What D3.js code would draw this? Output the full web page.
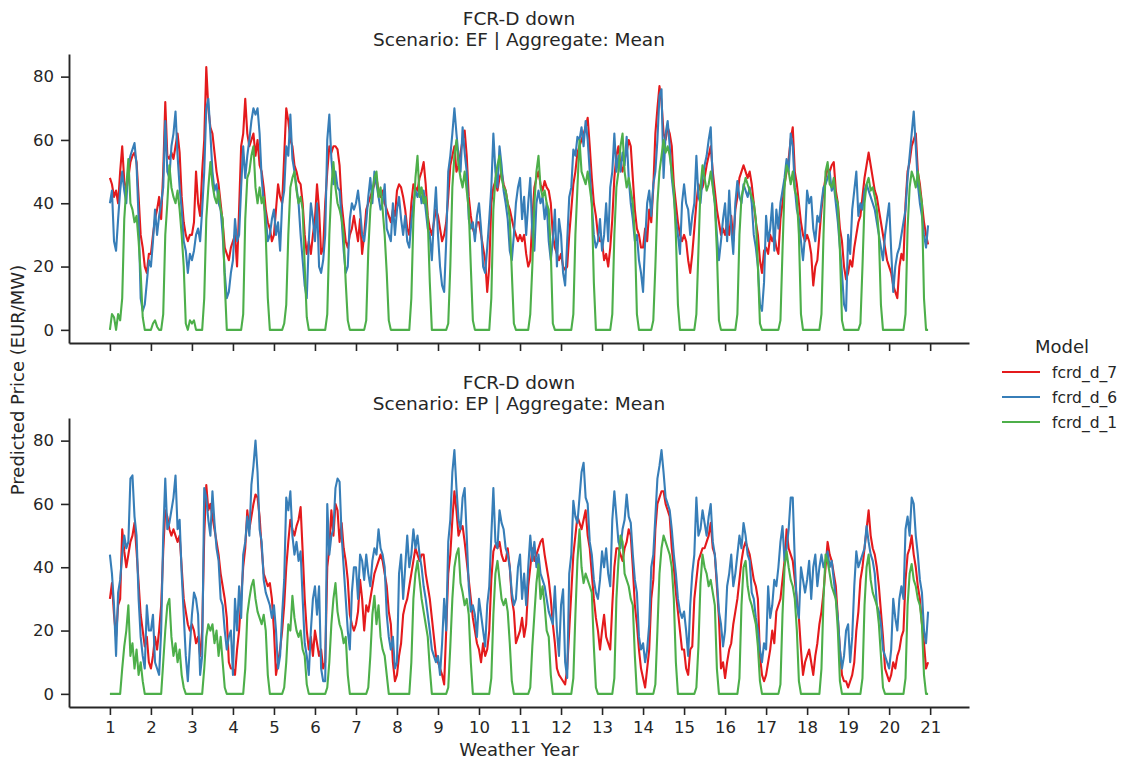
<!DOCTYPE html>
<html>
<head>
<meta charset="utf-8">
<script src="https://cdn.jsdelivr.net/npm/d3@7"></script>
<style>
  body { margin: 0; background: #fff; }
  text { font-family: "DejaVu Sans", sans-serif; fill: #262626; }
</style>
</head>
<body>
<svg id="chart" width="1129" height="763"></svg>
<script>
// weekly-ish samples, 20 per weather year, starting at year 1
const START_YEAR = 1
const STEPS_PER_YEAR = 20
const xTicks = d3.range(1, 22)
const yTicks = [0, 20, 40, 60, 80]
const models = ['fcrd_d_7', 'fcrd_d_6', 'fcrd_d_1']
const modelColors = ['#e41a1c', '#377eb8', '#4daf4a']
const scenarios = ['EF', 'EP']

// Scenario EF
const efRed = [
  48,46,42,44,40,50,58,47,44,48,53,55,56,53,42,30,26,20,18,24,
  24,30,35,38,42,35,50,72,55,54,56,54,58,62,56,42,34,30,28,30,
  30,34,50,40,36,50,60,83,70,64,62,56,50,46,40,34,26,24,22,26,
  28,30,20,38,58,62,73,62,58,60,62,55,60,52,50,45,38,34,32,28,
  30,38,46,42,40,55,70,66,60,58,52,50,47,46,40,30,24,28,24,30,
  35,46,38,24,26,40,50,58,56,58,58,57,52,40,34,28,26,30,32,36,
  32,28,35,24,30,38,40,42,44,46,48,44,42,44,40,38,36,34,38,36,
  44,46,45,42,38,32,30,40,46,45,44,48,50,53,46,36,32,30,34,38,
  36,32,28,30,34,42,52,55,58,50,52,56,60,63,55,42,36,32,30,34,
  34,30,26,22,12,20,40,45,47,44,48,50,46,44,40,38,35,32,30,28,
  30,28,30,24,20,22,35,45,48,50,46,44,47,45,44,40,30,26,24,22,
  24,20,19,20,30,38,46,50,56,58,60,62,64,67,58,48,40,36,30,28,
  28,22,24,20,26,35,48,55,58,52,50,54,56,60,58,48,38,32,30,26,
  26,32,28,38,34,45,62,70,77,72,62,60,64,62,58,46,40,34,30,28,
  30,28,22,18,24,32,40,46,44,45,48,52,55,58,50,44,38,34,30,32,
  30,34,30,36,28,38,42,48,50,52,50,48,50,46,40,34,30,22,18,25,
  26,24,30,28,30,26,24,35,40,46,50,54,60,64,50,46,40,34,30,28,
  30,28,24,14,20,22,30,38,44,48,51,50,52,53,44,40,32,28,20,16,
  18,22,20,26,30,34,36,42,48,52,56,52,48,44,42,38,34,30,26,22,
  20,18,14,12,10,20,24,22,40,50,53,58,60,62,50,46,40,34,30,27
]
const efBlue = [
  40,44,28,25,35,44,50,44,40,52,55,57,59,52,35,10,6,8,15,22,
  20,28,38,30,36,40,45,66,50,48,58,62,69,55,45,38,28,25,18,24,
  22,25,30,32,28,38,50,70,73,62,50,44,46,40,38,30,18,10,12,18,
  22,35,28,30,45,58,48,55,60,66,70,68,70,62,48,40,36,28,30,35,
  38,30,34,25,40,44,58,55,68,54,50,45,40,30,22,14,10,28,40,35,
  28,40,20,18,22,30,60,68,54,46,50,45,44,35,25,18,20,35,40,38,
  40,44,38,30,28,34,42,48,40,50,46,42,38,40,46,32,30,28,40,30,
  38,42,35,30,36,28,26,34,40,44,42,45,40,44,38,32,30,22,35,45,
  30,20,14,12,28,50,55,62,70,62,55,50,64,56,50,35,32,34,28,36,
  40,32,20,18,26,35,45,62,50,45,58,52,44,40,35,25,22,30,40,45,
  48,35,42,30,40,48,30,25,40,44,40,42,35,40,28,22,28,38,20,35,
  30,18,14,28,42,45,57,55,61,60,64,58,66,60,50,40,30,26,28,35,
  25,30,40,28,45,50,62,50,55,50,56,52,61,48,40,35,28,30,22,18,
  12,28,40,44,36,46,50,60,74,76,48,62,66,58,48,42,35,30,24,40,
  46,40,38,30,36,40,55,42,40,48,52,55,60,64,46,40,30,22,28,35,
  40,28,44,32,24,40,47,42,40,46,44,42,45,40,30,26,20,8,6,15,
  36,28,32,40,25,38,32,40,44,48,54,50,62,58,45,38,35,28,22,30,
  44,40,42,32,28,36,34,40,45,46,48,50,44,46,40,34,26,18,8,6,
  30,24,38,44,50,36,40,38,44,46,44,42,40,38,34,30,26,22,30,35,
  40,25,12,20,24,26,30,34,38,48,55,62,69,58,46,40,36,30,26,33
]
const efGreen = [
  0,5,4,0,5,3,10,35,45,54,40,38,34,36,28,18,4,0,0,0,
  0,2,3,1,0,0,5,30,40,52,45,42,40,44,38,30,20,2,0,3,
  2,3,0,0,0,0,10,35,45,53,46,42,40,44,38,35,15,0,0,0,
  0,0,0,0,0,5,35,48,50,55,58,45,40,45,40,42,30,10,0,0,
  0,0,0,0,0,2,8,30,45,48,50,44,40,42,38,20,4,0,0,0,
  0,0,0,0,0,0,5,30,45,53,45,40,38,35,30,15,3,0,0,0,
  0,0,0,0,0,3,25,38,44,48,50,42,45,38,30,18,3,0,0,0,
  0,0,0,0,0,0,0,10,35,48,55,42,45,40,42,35,15,0,0,0,
  0,0,0,0,0,2,20,45,55,60,52,48,45,50,44,38,20,3,0,0,
  0,0,0,0,0,0,10,38,48,52,55,48,45,44,40,35,18,2,0,0,
  0,0,0,0,0,5,20,40,50,55,45,42,44,40,38,25,2,0,0,0,
  0,0,0,0,0,0,5,30,45,60,50,48,46,50,45,40,15,0,0,0,
  0,0,0,0,0,5,30,45,50,58,62,50,45,48,44,40,30,5,0,0,
  0,0,0,0,0,3,20,40,50,55,60,56,58,55,50,44,30,8,0,0,
  0,0,0,0,0,0,5,25,45,52,48,44,46,50,45,40,25,3,0,0,
  0,0,0,0,0,0,5,30,42,45,48,46,44,42,40,35,20,2,0,0,
  0,0,0,0,0,0,0,3,25,45,52,50,46,50,44,42,30,5,0,0,
  0,0,0,0,0,0,0,5,30,50,53,46,45,48,42,40,25,3,0,0,
  0,0,0,0,0,0,2,20,40,46,48,44,45,42,38,30,8,0,0,0,
  0,0,0,0,0,0,0,0,5,32,45,50,48,45,50,44,40,10,0,0
]

// Scenario EP
const epRed = [
  30,35,25,18,28,30,52,45,40,44,48,50,54,45,35,25,20,15,18,10,
  8,12,18,14,20,28,45,58,56,52,50,52,50,48,50,40,30,26,22,20,
  22,20,16,18,12,20,50,66,58,60,56,52,48,44,38,34,30,24,10,8,
  8,6,14,20,30,40,46,58,52,56,60,63,62,56,46,38,36,34,35,30,
  20,6,10,14,20,28,40,48,55,52,50,53,55,59,45,30,20,14,18,12,
  20,16,12,14,8,10,40,46,58,50,60,58,48,54,46,42,36,25,22,20,
  22,26,36,30,20,28,26,30,34,38,40,42,44,42,38,34,26,22,10,4,
  6,12,16,25,28,30,34,38,42,46,44,42,44,44,38,34,30,24,18,12,
  10,8,6,3,20,38,44,55,64,58,50,52,53,48,42,36,30,24,20,16,
  14,10,16,12,14,20,36,45,47,46,48,44,42,42,46,40,30,26,16,18,
  20,24,18,22,34,40,46,42,44,46,48,49,44,40,36,30,22,16,8,6,
  5,4,3,8,20,32,44,50,56,54,52,55,58,50,46,38,30,24,20,14,
  20,25,18,16,14,28,40,46,46,44,42,46,48,52,50,40,28,22,14,8,
  5,2,8,14,30,36,52,60,62,64,64,60,58,56,46,40,32,26,20,14,
  14,8,6,14,15,30,36,42,44,46,46,48,50,54,46,44,34,24,8,10,
  5,10,14,16,22,26,30,36,42,46,48,46,44,40,36,34,30,12,6,4,
  6,10,14,20,16,26,28,30,36,42,52,46,44,42,36,30,24,14,6,10,
  12,14,10,6,12,16,22,26,32,40,48,44,42,38,34,24,14,6,4,4,
  2,4,6,10,20,26,36,40,46,52,58,50,46,44,40,34,26,18,8,6,
  4,6,10,8,12,14,18,20,36,44,46,50,44,40,34,30,22,16,8,10
]
const epBlue = [
  44,38,28,12,32,36,44,50,46,48,68,69,56,50,30,18,12,8,28,20,
  20,25,10,8,6,20,50,68,52,54,58,62,69,52,55,38,25,12,4,15,
  25,32,30,25,6,12,65,62,55,50,64,54,46,42,30,28,20,14,18,20,
  6,30,20,34,24,44,48,56,50,66,72,80,70,52,48,36,32,30,28,24,
  28,20,8,12,25,36,62,58,64,50,44,48,42,45,30,16,12,6,20,30,
  34,25,34,8,4,4,60,44,50,52,65,68,67,50,40,30,20,14,32,40,
  40,30,44,42,36,44,38,34,42,46,44,52,46,44,40,25,18,14,18,8,
  10,38,44,30,40,50,40,44,52,46,50,44,40,34,30,25,20,14,12,10,
  12,6,16,30,20,48,55,70,77,65,55,52,62,65,50,34,26,28,25,18,
  30,25,20,15,28,34,50,65,48,46,58,54,52,46,44,40,32,28,30,40,
  44,30,38,28,40,50,42,48,40,44,38,36,34,30,26,24,22,34,20,12,
  28,33,10,5,38,44,61,56,54,62,70,73,62,60,48,44,36,32,30,36,
  45,40,46,38,34,55,64,56,48,46,52,55,63,56,54,44,36,32,18,14,
  16,10,14,22,40,44,56,68,72,77,70,62,60,58,52,44,38,30,26,24,
  26,20,12,28,38,44,62,50,52,58,54,50,56,60,48,44,36,26,22,15,
  20,34,38,44,34,38,44,50,46,54,50,44,42,32,30,24,20,14,10,16,
  14,34,24,28,36,34,40,48,53,42,46,52,62,62,42,28,24,40,36,32,
  36,42,30,40,44,34,40,44,40,42,45,40,42,36,30,24,14,8,12,20,
  22,10,18,34,45,40,42,44,46,53,48,44,42,38,28,26,22,14,12,10,
  8,14,30,24,20,30,34,30,52,56,50,62,60,50,44,36,32,20,16,26
]
const epGreen = [
  0,0,0,0,0,0,8,15,20,28,12,16,8,14,6,10,4,0,0,0,
  0,0,0,0,0,0,10,20,28,30,18,12,16,10,14,6,2,0,0,0,
  0,0,0,0,0,0,8,18,22,20,22,16,20,12,18,10,2,0,0,0,
  0,0,0,0,0,0,8,25,30,34,36,30,26,24,22,25,20,6,0,0,
  0,0,0,0,0,2,10,22,20,31,24,20,18,20,14,12,3,0,0,0,
  0,0,0,0,0,0,2,10,22,30,35,26,22,20,16,18,6,0,0,0,
  0,0,0,0,0,0,2,12,25,31,22,28,18,14,12,6,0,0,0,0,
  0,0,0,0,0,0,0,10,30,38,42,36,30,26,22,18,8,0,0,0,
  0,0,0,0,0,2,15,30,40,44,46,35,32,28,30,25,10,0,0,0,
  0,0,0,0,0,0,5,25,38,42,36,30,28,30,26,16,4,0,0,0,
  0,0,0,0,0,2,15,25,35,41,30,34,28,20,18,6,0,0,0,0,
  0,0,0,0,0,0,5,25,42,52,40,35,38,36,34,32,15,2,0,0,
  0,0,0,0,0,0,5,30,42,50,48,38,36,34,30,28,12,0,0,0,
  0,0,0,0,0,0,3,20,38,46,50,48,46,44,40,30,10,0,0,0,
  0,0,0,0,0,0,2,15,35,44,40,38,34,36,32,28,8,0,0,0,
  0,0,0,0,0,0,0,5,28,40,42,34,30,28,25,22,15,4,0,0,
  0,0,0,0,0,0,0,3,25,40,45,40,36,34,30,20,4,0,0,0,
  0,0,0,0,0,0,0,8,30,44,42,38,34,32,30,20,4,0,0,0,
  0,0,0,0,0,0,0,5,28,40,44,36,32,30,28,22,12,2,0,0,
  0,0,0,0,0,0,0,0,5,28,38,41,36,34,30,28,22,6,0,0
]

const panels = [
  { scenario: scenarios[0], series: [efRed, efBlue, efGreen] },
  { scenario: scenarios[1], series: [epRed, epBlue, epGreen] }
]

const svg = d3.select('#chart')
const plotLeft = 69
const plotRight = 969
const panelTops = [54, 418]
const panelHeight = 289
const TICK_FONT = '16.5px'
const LABEL_FONT = '18px'
const TITLE_FONT = '18.5px'
const LEGEND_FONT = '15.5px'

const years = d3.range(efRed.length).map(i => START_YEAR + i / STEPS_PER_YEAR)
const xPad = (d3.max(years) - d3.min(years)) * 0.05
const x = d3.scaleLinear()
  .domain([d3.min(years) - xPad, d3.max(years) + xPad])
  .range([plotLeft, plotRight])

const allValues = panels.flatMap(p => p.series.flat())
const [vMin, vMax] = d3.extent(allValues)
const yPad = (vMax - vMin) * 0.05

const line = y => d3.line()
  .x((d, i) => x(years[i]))
  .y(d => y(d))

panels.forEach((panel, pi) => {
  const top = panelTops[pi]
  const y = d3.scaleLinear()
    .domain([vMin - yPad, vMax + yPad])
    .range([top + panelHeight, top])
  const g = svg.append('g')

  panel.series.forEach((vals, si) => {
    g.append('path')
      .datum(vals)
      .attr('fill', 'none')
      .attr('stroke', modelColors[si])
      .attr('stroke-width', 2.1)
      .attr('stroke-linejoin', 'round')
      .attr('d', line(y))
  })

  const isLast = pi === panels.length - 1
  const gy = g.append('g')
    .attr('transform', `translate(${plotLeft},0)`)
    .call(d3.axisLeft(y).tickValues(yTicks).tickSize(8).tickPadding(7).tickSizeOuter(0))
  const gx = g.append('g')
    .attr('transform', `translate(0,${top + panelHeight})`)
    .call(d3.axisBottom(x).tickValues(xTicks).tickSize(8).tickPadding(6).tickSizeOuter(0)
      .tickFormat(isLast ? d3.format('d') : () => ''))

  ;[gx, gy].forEach(ax => {
    ax.select('.domain').attr('stroke', '#262626').attr('stroke-width', 1.9)
    ax.selectAll('.tick line').attr('stroke', '#262626').attr('stroke-width', 1.6)
    ax.selectAll('.tick text')
      .style('font-family', '"DejaVu Sans", sans-serif')
      .style('font-size', TICK_FONT)
      .attr('fill', '#262626')
  })

  const cx = (plotLeft + plotRight) / 2
  g.append('text')
    .attr('x', cx).attr('y', top - 29)
    .attr('text-anchor', 'middle')
    .style('font-size', TITLE_FONT)
    .text('FCR-D down')
  g.append('text')
    .attr('x', cx).attr('y', top - 8)
    .attr('text-anchor', 'middle')
    .style('font-size', TITLE_FONT)
    .text(`Scenario: ${panel.scenario} | Aggregate: Mean`)
})

// shared axis labels
svg.append('text')
  .attr('transform', `translate(24,380) rotate(-90)`)
  .attr('text-anchor', 'middle')
  .style('font-size', LABEL_FONT)
  .text('Predicted Price (EUR/MW)')

svg.append('text')
  .attr('x', (plotLeft + plotRight) / 2).attr('y', 756)
  .attr('text-anchor', 'middle')
  .style('font-size', LABEL_FONT)
  .text('Weather Year')

// legend
const legend = svg.append('g').attr('transform', 'translate(1002,0)')
legend.append('text')
  .attr('x', 60).attr('y', 353)
  .attr('text-anchor', 'middle')
  .style('font-size', LABEL_FONT)
  .text('Model')
models.forEach((m, i) => {
  const ly = 372 + i * 25
  legend.append('line')
    .attr('x1', 0).attr('x2', 38)
    .attr('y1', ly).attr('y2', ly)
    .attr('stroke', modelColors[i])
    .attr('stroke-width', 2)
  legend.append('text')
    .attr('x', 50).attr('y', ly + 6)
    .style('font-size', LEGEND_FONT)
    .text(m)
})
</script>
</body>
</html>
